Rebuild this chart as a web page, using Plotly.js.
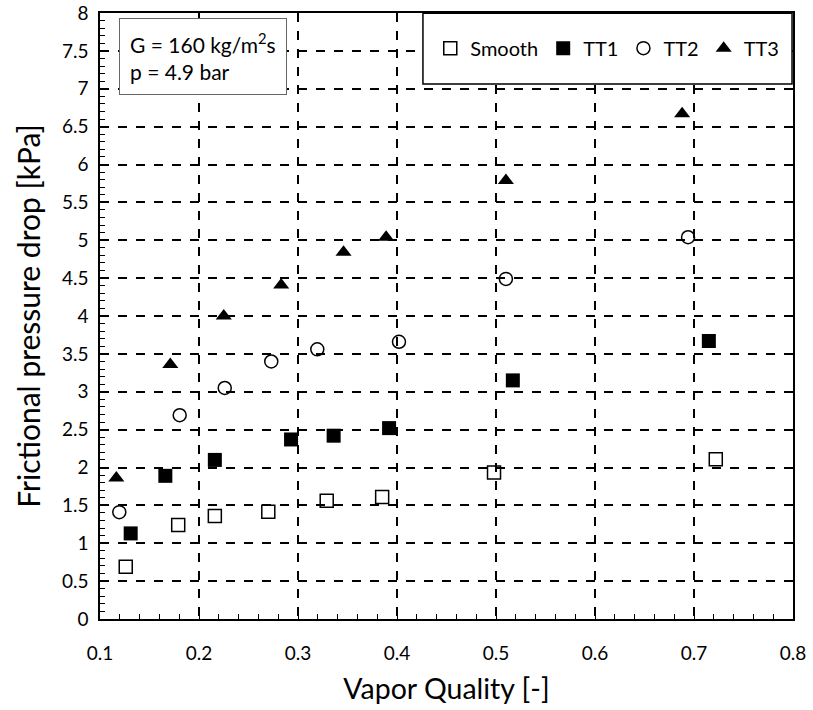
<!DOCTYPE html>
<html><head><meta charset="utf-8">
<script src="https://cdn.plot.ly/plotly-3.0.1.min.js"></script>
<style>body{margin:0;background:#fff}#c{width:813px;height:710px}</style>
</head><body><div id="c"></div>
<script>
const smoothX = [0.126, 0.179, 0.216, 0.270, 0.329, 0.385, 0.498, 0.722];
const smoothY = [0.69, 1.24, 1.36, 1.415, 1.56, 1.61, 1.935, 2.11];
const tt1X = [0.131, 0.166, 0.216, 0.293, 0.336, 0.392, 0.517, 0.715];
const tt1Y = [1.13, 1.89, 2.10, 2.37, 2.42, 2.52, 3.15, 3.67];
const tt2X = [0.1195, 0.1805, 0.226, 0.273, 0.3195, 0.402, 0.510, 0.694];
const tt2Y = [1.41, 2.69, 3.05, 3.40, 3.56, 3.66, 4.49, 5.04];
const tt3X = [0.1165, 0.171, 0.225, 0.283, 0.346, 0.389, 0.510, 0.688];
const tt3Y = [1.86, 3.36, 4.00, 4.41, 4.84, 5.04, 5.79, 6.67];

const FONT = 'Lato, "Open Sans", sans-serif';
const traces = [
  {x: smoothX, y: smoothY, name: 'Smooth', mode: 'markers', type: 'scatter',
   marker: {symbol: 'square-open', size: 13, color: '#000', line: {width: 1.5, color: '#000'}}},
  {x: tt1X, y: tt1Y, name: 'TT1', mode: 'markers', type: 'scatter',
   marker: {symbol: 'square', size: 14, color: '#000'}},
  {x: tt2X, y: tt2Y, name: 'TT2', mode: 'markers', type: 'scatter',
   marker: {symbol: 'circle-open', size: 13, color: '#000', line: {width: 1.5, color: '#000'}}},
  {x: tt3X, y: tt3Y, name: 'TT3', mode: 'markers', type: 'scatter',
   marker: {symbol: 'triangle-up', size: 14, color: '#000'}}
];

const layout = {
  width: 813, height: 710,
  margin: {l: 100, r: 20, t: 13, b: 91},
  paper_bgcolor: '#fff', plot_bgcolor: '#fff',
  font: {family: FONT, color: '#000', size: 18},
  showlegend: true,
  legend: {orientation: 'h', x: 0.732, xanchor: 'center', y: 0.942, yanchor: 'middle',
    borderwidth: 0, bgcolor: 'rgba(0,0,0,0)',
    font: {family: FONT, size: 20, color: '#000'}, itemwidth: 30},
  shapes: [{type: 'rect', xref: 'paper', yref: 'paper', x0: 0.466, x1: 0.9986, y0: 0.883, y1: 0.9995,
    line: {color: '#000', width: 1.5}, fillcolor: '#fff', layer: 'above'}],
  xaxis: {range: [0.1, 0.8], dtick: 0.1, tick0: 0.1, tickformat: '.1f',
    showgrid: true, gridcolor: '#000', gridwidth: 1.5, griddash: 'dash',
    showline: true, mirror: true, linecolor: '#000', linewidth: 1.5,
    ticks: 'inside', ticklen: 6, tickcolor: '#000', ticklabelstandoff: 16,
    minor: {dtick: 0.02, ticks: 'inside', ticklen: 5, tickcolor: '#000', showgrid: false},
    zeroline: false, tickfont: {size: 19},
    title: {text: 'Vapor Quality [-]', font: {size: 28.5}, standoff: 17}},
  yaxis: {range: [0, 8], dtick: 0.5, tick0: 0,
    showgrid: true, gridcolor: '#000', gridwidth: 1.5, griddash: 'dash',
    showline: true, mirror: true, linecolor: '#000', linewidth: 1.5,
    ticks: 'inside', ticklen: 6, tickcolor: '#000', ticklabelstandoff: 6,
    minor: {dtick: 0.1, ticks: 'inside', ticklen: 5, tickcolor: '#000', showgrid: false},
    zeroline: false, tickfont: {size: 19},
    title: {text: 'Frictional pressure drop [kPa]', font: {size: 30}, standoff: 12}},
  annotations: [{
    xref: 'paper', yref: 'paper', x: 0.0274, y: 0.9917, xanchor: 'left', yanchor: 'top',
    text: 'G = 160 kg/m<sup>2</sup>s<br>p = 4.9 bar', align: 'left', showarrow: false,
    font: {family: FONT, size: 21, color: '#000'},
    bordercolor: '#666', borderwidth: 1, borderpad: 10, bgcolor: '#fff'
  }]
};
Plotly.newPlot('c', traces, layout, {displayModeBar: false, responsive: false});
</script></body></html>
